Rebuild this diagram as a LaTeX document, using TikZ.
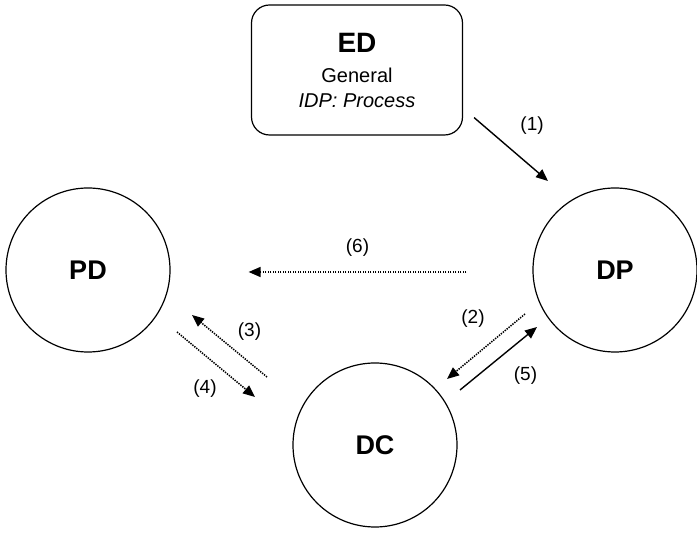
\documentclass[tikz,border=0pt]{standalone}
\usepackage{fontspec}
\setmainfont{Liberation Sans}
\usetikzlibrary{arrows.meta}

\begin{document}
\begin{tikzpicture}[x=1pt, y=-1pt,
	state/.style={circle, draw, line width=1.2pt, minimum size=164pt, inner sep=0pt, font=\fontsize{27}{30}\selectfont\bfseries},
	solidarr/.style={line width=1.4pt, -{Triangle[length=12pt, width=10pt]}},
	dotarr/.style={line width=1.5pt, dash pattern=on 1.4pt off 1.1pt, -{Triangle[length=12pt, width=10pt]}},
	lbl/.style={font=\fontsize{19}{22}\selectfont}]
	\useasboundingbox (0,0) rectangle (697,534);

	\node[draw, line width=1.2pt, rounded corners=18pt, minimum width=211pt, minimum height=130pt, align=center, font=\fontsize{20}{25}\selectfont] (ED) at (357,70)
		{{\fontsize{28}{30}\selectfont\bfseries ED}\\[5pt] General\\ \textit{IDP: Process}};
	\node[state] (PD) at (88,270) {PD};
	\node[state] (DP) at (615,270) {DP};
	\node[state] (DC) at (375,445) {DC};

	\draw[solidarr] ([shift={(11,-18)}]ED.south east) -- ([shift={(-67,-89)}]DP.center) node[lbl, midway, shift={(21,-24)}] {(1)};
	\draw[dotarr] ([shift={(-66,2)}]DP.west) -- ([shift={(78,2)}]PD.east) node[lbl, midway, shift={(0,-24)}] {(6)};
	\draw[dotarr] ([shift={(-90,44)}]DP.center) -- ([shift={(72,-66)}]DC.center) node[lbl, midway, shift={(-13,-28)}] {(2)};
	\draw[dotarr] ([shift={(-108,-68)}]DC.center) -- ([shift={(104,45)}]PD.center) node[lbl, midway, shift={(20,-14)}] {(3)};
	\draw[dotarr] ([shift={(89,62)}]PD.center) -- ([shift={(-120,-48)}]DC.center) node[lbl, midway, shift={(-11,24)}] {(4)};
	\draw[solidarr] ([shift={(85,-55)}]DC.center) -- ([shift={(-78,57)}]DP.center) node[lbl, midway, shift={(27,17)}] {(5)};
\end{tikzpicture}
\end{document}
